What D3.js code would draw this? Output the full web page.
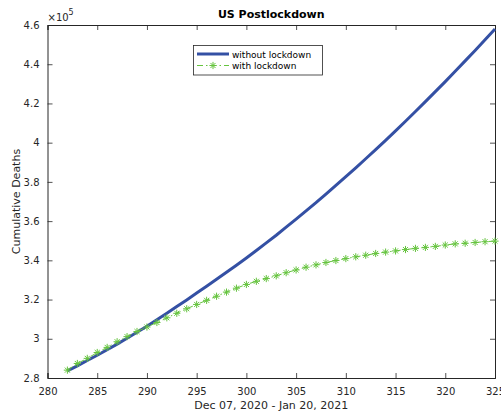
<!DOCTYPE html>
<html><head><meta charset="utf-8">
<script src="https://cdn.jsdelivr.net/npm/d3@7"></script>
<style>body{margin:0;background:#fff}svg{display:block}text{font-family:"DejaVu Sans",sans-serif}</style>
</head><body><svg id="c" width="501" height="414"></svg>
<script>
const days = d3.range(282, 326);
const withoutLockdown = [2.836,2.862,2.889,2.916,2.944,2.973,3.003,3.033,3.064,3.097,3.130,3.164,3.198,3.233,3.268,3.303,3.339,3.375,3.412,3.450,3.489,3.528,3.569,3.610,3.652,3.694,3.738,3.782,3.827,3.872,3.918,3.965,4.012,4.060,4.109,4.159,4.209,4.260,4.311,4.364,4.417,4.470,4.525,4.580];
const withLockdown = [2.840,2.874,2.900,2.930,2.956,2.985,3.011,3.037,3.060,3.083,3.107,3.130,3.153,3.175,3.196,3.217,3.238,3.258,3.277,3.293,3.307,3.321,3.337,3.351,3.365,3.377,3.389,3.399,3.409,3.418,3.426,3.435,3.442,3.448,3.455,3.461,3.466,3.471,3.478,3.484,3.487,3.491,3.495,3.498];
const xTicks = [280,285,290,295,300,305,310,315,320,325];
const yTicks = [2.8,3.0,3.2,3.4,3.6,3.8,4.0,4.2,4.4,4.6];
const seriesNames = ["without lockdown","with lockdown"];

const svg = d3.select("#c");
const L=47.5, R=495, T=25, B=378;
const axCol="#262626";
const blue="#3450a4", green="#66c43f";
const x = d3.scaleLinear().domain([280,325]).range([L,R]);
const y = d3.scaleLinear().domain([2.8,4.6]).range([B,T]);

// axes box and ticks
const g = svg.append("g");
const tl=5;
g.append("g").attr("transform",`translate(0,${B})`)
 .call(d3.axisBottom(x).tickValues(xTicks).tickSize(-tl).tickPadding(10).tickFormat(d3.format("d")));
g.append("g").attr("transform",`translate(0,${T})`)
 .call(d3.axisTop(x).tickValues(xTicks).tickSize(-tl).tickFormat(""));
g.append("g").attr("transform",`translate(${L},0)`)
 .call(d3.axisLeft(y).tickValues(yTicks).tickSize(-tl).tickPadding(8).tickFormat(d=>d3.format("")(+d.toFixed(1))));
g.append("g").attr("transform",`translate(${R},0)`)
 .call(d3.axisRight(y).tickValues(yTicks).tickSize(-tl).tickFormat(""));
g.selectAll(".domain").attr("stroke",axCol).attr("stroke-width",1);
g.selectAll(".tick line").attr("stroke",axCol).attr("stroke-width",0.8);
g.selectAll(".tick text").attr("fill",axCol).attr("font-size",10).attr("font-family","DejaVu Sans");

// exponent
const ex = svg.append("text").attr("x",L).attr("y",21).attr("fill",axCol).attr("font-size",10);
ex.append("tspan").text("×10");
ex.append("tspan").attr("dy",-6).attr("font-size",8).text("5");

// lines
const lineB = d3.line().x((d,i)=>x(days[i])).y(d=>y(d));
svg.append("path").datum(withoutLockdown).attr("d",lineB).attr("fill","none").attr("stroke",blue).attr("stroke-width",3);
svg.append("path").datum(withLockdown).attr("d",lineB).attr("fill","none").attr("stroke",green).attr("stroke-width",1).attr("stroke-dasharray","6,3,1.5,3");

function star(sel, cx, cy, s, col){
  const p = `M${cx-s},${cy}L${cx+s},${cy}M${cx},${cy-s}L${cx},${cy+s}M${cx-s*0.7},${cy-s*0.7}L${cx+s*0.7},${cy+s*0.7}M${cx-s*0.7},${cy+s*0.7}L${cx+s*0.7},${cy-s*0.7}`;
  sel.append("path").attr("d",p).attr("stroke",col).attr("stroke-width",1).attr("fill","none");
}
const mk = svg.append("g");
withLockdown.forEach((v,i)=>star(mk, x(days[i]), y(v), 3.6, green));

// title and labels
svg.append("text").attr("x",(L+R)/2).attr("y",18).attr("text-anchor","middle").attr("font-weight","bold").attr("font-size",11).attr("fill","#000").text("US Postlockdown");
svg.append("text").attr("x",(L+R)/2).attr("y",409).attr("text-anchor","middle").attr("font-size",11).attr("fill",axCol).text("Dec 07, 2020 - Jan 20, 2021");
svg.append("text").attr("transform",`translate(20,${(T+B)/2}) rotate(-90)`).attr("text-anchor","middle").attr("font-size",11).attr("fill",axCol).text("Cumulative Deaths");

// legend
const lg = svg.append("g");
lg.append("rect").attr("x",193.5).attr("y",45.5).attr("width",129).attr("height",29.5).attr("fill","#fff").attr("stroke",axCol).attr("stroke-width",0.8);
lg.append("line").attr("x1",197).attr("x2",229).attr("y1",54).attr("y2",54).attr("stroke",blue).attr("stroke-width",3);
lg.append("line").attr("x1",197).attr("x2",229).attr("y1",65.5).attr("y2",65.5).attr("stroke",green).attr("stroke-width",1).attr("stroke-dasharray","6,3,1.5,3");
star(lg, 213, 65.5, 3.6, green);
lg.selectAll(null).data(seriesNames).enter().append("text").attr("x",232).attr("y",(d,i)=>57.5+i*11.5).attr("font-size",9).attr("fill","#000").text(d=>d);
</script></body></html>
